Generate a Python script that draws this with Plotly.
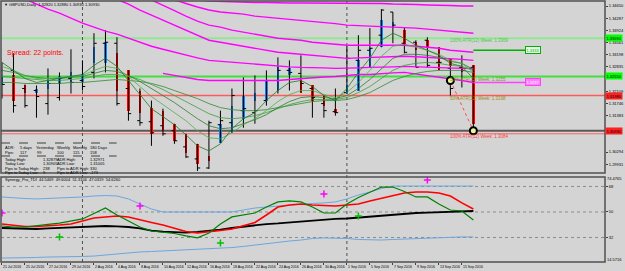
import plotly.graph_objects as go

# ---------------- data ----------------
DATE_LABEL_BARS = [0, 2, 4, 6, 8, 10, 12, 14, 16, 18, 20, 22, 24, 26, 28, 30, 32, 34, 36, 38, 40]
DATE_LABELS = ["21 Jul 2016", "25 Jul 2016", "27 Jul 2016", "29 Jul 2016", "2 Aug 2016", "4 Aug 2016",
               "8 Aug 2016", "10 Aug 2016", "12 Aug 2016", "16 Aug 2016", "18 Aug 2016", "22 Aug 2016",
               "24 Aug 2016", "26 Aug 2016", "30 Aug 2016", "1 Sep 2016", "5 Sep 2016", "7 Sep 2016",
               "9 Sep 2016", "13 Sep 2016", "15 Sep 2016"]
MONTH_START_BARS = [7, 30]

OPEN = [1.3273, 1.3273, 1.3219, 1.3213, 1.3174, 1.3192, 1.3249, 1.3243, 1.3267, 1.3354,
        1.3354, 1.3219, 1.3123, 1.3120, 1.3108, 1.3093, 1.3045, 1.3009, 1.2982, 1.3111,
        1.3117, 1.3153, 1.3147, 1.3183, 1.3243, 1.3273, 1.3264, 1.3219, 1.3174, 1.3150,
        1.3207, 1.3303, 1.3333, 1.3378, 1.3447, 1.3354, 1.3357, 1.3363, 1.3297, 1.3279,
        1.3282, 1.3282]
HIGH = [1.3297, 1.3324, 1.3231, 1.3228, 1.3279, 1.3267, 1.3336, 1.3303, 1.3384, 1.3393,
        1.3372, 1.3273, 1.3219, 1.3183, 1.3159, 1.3114, 1.3084, 1.3054, 1.3123, 1.3153,
        1.3219, 1.3252, 1.3258, 1.3273, 1.3312, 1.3303, 1.3318, 1.3228, 1.3198, 1.3219,
        1.3348, 1.3378, 1.3399, 1.3456, 1.3447, 1.3402, 1.3363, 1.3372, 1.3342, 1.3306,
        1.3318, 1.3288]
LOW = [1.3189, 1.3147, 1.3162, 1.3132, 1.3141, 1.3183, 1.3204, 1.3213, 1.3249, 1.3267,
       1.3168, 1.3123, 1.3108, 1.3048, 1.3078, 1.3054, 1.3012, 1.2973, 1.2979, 1.3057,
       1.3087, 1.3102, 1.3114, 1.3168, 1.3204, 1.3213, 1.3207, 1.3132, 1.3132, 1.3138,
       1.3204, 1.3213, 1.3282, 1.3342, 1.3354, 1.3324, 1.3282, 1.3282, 1.3273, 1.3198,
       1.3222, 1.3093]
CLOSE = [1.3231, 1.3168, 1.3168, 1.3195, 1.3234, 1.3249, 1.3237, 1.3225, 1.3354, 1.3357,
         1.3174, 1.3144, 1.3117, 1.3087, 1.3084, 1.3063, 1.3015, 1.2982, 1.3117, 1.3123,
         1.3198, 1.3159, 1.3153, 1.3243, 1.3273, 1.3267, 1.3234, 1.3192, 1.3153, 1.3147,
         1.3309, 1.3333, 1.3339, 1.3453, 1.3408, 1.3327, 1.3282, 1.3288, 1.3297, 1.3219,
         1.3273, 1.3093]
HA_OPEN = [1.3231, 1.3258, 1.3228, 1.3207, 1.3219, 1.3231, 1.3237, 1.3237, 1.3294, 1.3294,
           1.3324, 1.3273, 1.3213, 1.3162, 1.3153, 1.3114, 1.3084, 1.3054, 1.3018, 1.3057,
           1.3087, 1.3129, 1.3183, 1.3183, 1.3213, 1.3258, 1.3243, 1.3228, 1.3198, 1.3159,
           1.3204, 1.3213, 1.3282, 1.3342, 1.3399, 1.3393, 1.3357, 1.3363, 1.3342, 1.3306,
           1.3282, 1.3288]
HA_CLOSE = [1.3252, 1.3183, 1.3207, 1.3219, 1.3243, 1.3255, 1.3267, 1.3261, 1.3342, 1.3357,
            1.3213, 1.3153, 1.3147, 1.3084, 1.3093, 1.3063, 1.3027, 1.2994, 1.3003, 1.3114,
            1.3168, 1.3198, 1.3207, 1.3243, 1.3282, 1.3279, 1.3207, 1.3183, 1.3168, 1.3147,
            1.3228, 1.3303, 1.3339, 1.3423, 1.3417, 1.3348, 1.3333, 1.3339, 1.3273, 1.3285,
            1.3267, 1.3114]

MA_A = [1.3297, 1.3273, 1.3249, 1.3237, 1.3243, 1.3249, 1.3255, 1.3261, 1.3288, 1.3309,
        1.3285, 1.3243, 1.3198, 1.3159, 1.3135, 1.3111, 1.3081, 1.3048, 1.3033, 1.3054,
        1.3099, 1.3129, 1.3147, 1.3183, 1.3213, 1.3237, 1.3243, 1.3225, 1.3198, 1.3183,
        1.3219, 1.3267, 1.3309, 1.3363, 1.3384, 1.3369, 1.3348, 1.3333, 1.3318, 1.3294,
        1.3285, 1.3249]
MA_B = [1.3285, 1.3273, 1.3258, 1.3249, 1.3249, 1.3252, 1.3255, 1.3258, 1.3273, 1.3285,
        1.3279, 1.3255, 1.3225, 1.3195, 1.3171, 1.3147, 1.3123, 1.3093, 1.3072, 1.3069,
        1.3087, 1.3111, 1.3129, 1.3153, 1.3180, 1.3201, 1.3213, 1.3213, 1.3201, 1.3192,
        1.3207, 1.3237, 1.3273, 1.3315, 1.3345, 1.3351, 1.3342, 1.3333, 1.3321, 1.3303,
        1.3294, 1.3267]
MA_C = [1.3273, 1.3267, 1.3258, 1.3252, 1.3249, 1.3249, 1.3252, 1.3255, 1.3264, 1.3273,
        1.3270, 1.3258, 1.3240, 1.3219, 1.3198, 1.3177, 1.3153, 1.3129, 1.3108, 1.3099,
        1.3102, 1.3114, 1.3126, 1.3141, 1.3162, 1.3180, 1.3192, 1.3195, 1.3192, 1.3189,
        1.3198, 1.3219, 1.3246, 1.3279, 1.3309, 1.3321, 1.3321, 1.3318, 1.3312, 1.3300,
        1.3294, 1.3276]
MA_D = [1.3255, 1.3252, 1.3249, 1.3246, 1.3243, 1.3243, 1.3246, 1.3249, 1.3255, 1.3261,
        1.3261, 1.3255, 1.3246, 1.3231, 1.3216, 1.3198, 1.3180, 1.3162, 1.3144, 1.3132,
        1.3129, 1.3132, 1.3138, 1.3147, 1.3159, 1.3171, 1.3180, 1.3186, 1.3186, 1.3186,
        1.3192, 1.3207, 1.3225, 1.3249, 1.3273, 1.3288, 1.3294, 1.3297, 1.3294, 1.3288,
        1.3285, 1.3273]
MA_E = [1.3237, 1.3237, 1.3234, 1.3234, 1.3234, 1.3234, 1.3237, 1.3237, 1.3240, 1.3243,
        1.3246, 1.3243, 1.3240, 1.3234, 1.3225, 1.3213, 1.3201, 1.3189, 1.3174, 1.3162,
        1.3156, 1.3153, 1.3153, 1.3156, 1.3162, 1.3168, 1.3174, 1.3180, 1.3183, 1.3183,
        1.3186, 1.3195, 1.3207, 1.3225, 1.3243, 1.3255, 1.3264, 1.3270, 1.3273, 1.3273,
        1.3273, 1.3267]

ENV_1 = [1.3663, 1.3651, 1.3642, 1.3630, 1.3621, 1.3609, 1.3597, 1.3588, 1.3576, 1.3567,
         1.3555, 1.3543, 1.3531, 1.3519, 1.3507, 1.3495, 1.3489, 1.3483, 1.3480, 1.34785,
         1.3477, 1.3477, 1.34755, 1.34755, 1.3474, 1.3474, 1.3474, 1.3474, 1.3474, 1.3474,
         1.34725, 1.34725, 1.34725, 1.34725, 1.3471, 1.3471, 1.34695, 1.3468, 1.3468, 1.34665,
         1.3465, 1.3465]
ENV_2 = [1.3645, 1.3636, 1.3624, 1.3615, 1.3603, 1.3594, 1.3582, 1.3573, 1.3561, 1.3552,
         1.3540, 1.3528, 1.3516, 1.3507, 1.3495, 1.3483, 1.34725, 1.3462, 1.3453, 1.3447,
         1.3444, 1.3441, 1.3435, 1.3432, 1.3429, 1.3426, 1.3423, 1.34185, 1.34155, 1.34125,
         1.3408, 1.34065, 1.3405, 1.3405, 1.34035, 1.3402, 1.3399, 1.3396, 1.3393, 1.3390,
         1.3387, 1.3384]
ENV_3 = [1.3633, 1.3621, 1.3612, 1.3600, 1.3588, 1.3579, 1.3567, 1.3558, 1.3549, 1.3537,
         1.3522, 1.3510, 1.3495, 1.3483, 1.3468, 1.34515, 1.3435, 1.3420, 1.3408, 1.3402,
         1.3393, 1.3387, 1.3381, 1.3375, 1.3369, 1.3366, 1.3363, 1.3357, 1.3354, 1.3351,
         1.3348, 1.3348, 1.3348, 1.3348, 1.3348, 1.3348, 1.3345, 1.3342, 1.3339, 1.3333,
         1.3330, 1.3327]
ENV_4 = [1.3579, 1.3570, 1.3561, 1.3552, 1.3543, 1.3534, 1.3525, 1.3513, 1.3504, 1.3495,
         1.34845, 1.3471, 1.3453, 1.3438, 1.3423, 1.3408, 1.3393, 1.3378, 1.3363, 1.3357,
         1.3351, 1.3345, 1.3339, 1.3333, 1.3327, 1.3324, 1.3321, 1.3318, 1.3315, 1.3312,
         1.3309, 1.33105, 1.3312, 1.33135, 1.3315, 1.3315, 1.33135, 1.3312, 1.3309, 1.33075,
         1.3306, 1.3303]
ENV_5 = [1.3516, 1.3501, 1.3486, 1.3471, 1.3456, 1.3444, 1.3429, 1.3414, 1.3402, 1.3390,
         1.3381, 1.3369, 1.3357, 1.3345, 1.3336, 1.3327, 1.3318, 1.33105, 1.3303, 1.3300,
         1.3297, 1.3294, 1.3291, 1.3288, 1.3285, 1.32835, 1.3282, 1.3282, 1.32805, 1.3279,
         1.3279, 1.32805, 1.3282, 1.3282, 1.32835, 1.3285, 1.32835, 1.3282, 1.3282, 1.32805,
         1.3279, 1.3279]
ENV_6 = [None] * 14 + [1.3264, 1.3258, 1.3252, 1.3246, 1.3243, 1.3243,
                       1.3243, 1.3243, 1.3243, 1.3243, 1.3243, 1.3246, 1.3249, 1.3252, 1.32535, 1.3255,
                       1.3258, 1.3261, 1.3261, 1.3264, 1.32655, 1.3267, 1.32625, 1.3258, 1.3252, 1.32475,
                       1.3243, 1.3237]

ATR_100_HIGH = 1.3369
ATR_50_HIGH = 1.3255
ATR_50_LOW = 1.3198
ATR_100_LOW = 1.3084
PROJ_HIGH = 1.3333
PROJ_LOW = 1.3237
PIVOT_BARS = [39, 41]
PIVOT_PRICES = [1.3243, 1.3093]

PRICE_TICKS = [1.34650, 1.34287, 1.33924, 1.33561, 1.33198, 1.32835,
               1.32109, 1.31746, 1.31383, 1.30294, 1.29931]

TDI_UPPER = [60.6, 59.9, 59.5, 59.2, 59.5, 59.9, 60.2, 60.6, 61.3, 61.6,
             61.3, 59.2, 55.6, 52.1, 50.0, 50.0, 50.0, 50.0, 50.0, 50.0,
             50.0, 51.4, 52.8, 53.5, 54.2, 54.9, 55.6, 56.0, 56.4, 57.1,
             59.2, 62.0, 64.1, 66.6, 68.3, 68.3, 68.3, 68.3, 68.3, 68.3, 68.3, 68.3]
TDI_LOWER = [17.5, 17.5, 17.9, 17.9, 18.2, 18.2, 18.6, 18.6, 18.9, 19.7,
             20.4, 21.1, 21.8, 22.1, 22.5, 22.8, 23.2, 23.5, 23.9, 24.2,
             24.9, 25.7, 26.7, 27.8, 28.8, 29.5, 30.2, 31.3, 31.7, 31.7,
             31.3, 30.6, 30.2, 30.2, 30.6, 30.9, 31.3, 31.7, 32.0, 32.4, 32.4, 32.4]
TDI_SIGNAL = [41.5, 40.5, 39.8, 39.8, 40.1, 40.8, 41.5, 43.6, 45.8, 46.5,
              47.2, 46.5, 44.4, 42.6, 40.8, 38.7, 36.2, 35.2, 35.9, 36.9,
              38.0, 40.1, 42.6, 47.9, 53.5, 54.9, 55.6, 54.9, 54.6, 54.2,
              54.9, 55.6, 57.8, 59.5, 61.6, 63.4, 64.1, 64.1, 63.4, 61.3, 56.4, 52.1]
TDI_RSI = [40.1, 39.4, 39.4, 40.1, 41.2, 42.2, 43.6, 45.1, 48.9, 52.8,
           47.9, 43.6, 39.4, 36.6, 35.9, 34.8, 33.1, 31.7, 35.2, 41.5,
           46.5, 47.9, 49.3, 53.5, 57.1, 57.8, 57.1, 53.5, 49.3, 49.3,
           55.6, 60.2, 64.1, 67.6, 67.6, 64.5, 60.6, 60.6, 55.6, 51.4, 50.7, 44.4]
TDI_BASE = [38.7, 38.4, 38.0, 38.0, 38.4, 38.7, 39.1, 39.4, 39.8, 40.1,
            39.8, 39.4, 38.4, 36.9, 36.2, 35.9, 35.5, 35.9, 36.6, 37.6,
            38.7, 39.8, 40.8, 41.5, 41.9, 42.6, 42.9, 43.6, 44.4, 45.1,
            45.4, 46.1, 46.5, 47.2, 47.9, 48.6, 49.3, 49.6, 50.0, 50.4, 50.7, 50.7]
TDI_LEVELS = [68, 50, 32]
BUY_BARS = [5, 19, 31]
BUY_VALS = [32.4, 28.1, 47.2]
SELL_BARS = [0, 12, 28, 37]
SELL_VALS = [49.3, 54.2, 62.7, 72.6]

ADR_ROWS = [
    [("ADR:", 3), ("5 days", 18), ("Yesterday", 34), ("Weekly", 56), ("Monthly", 72), ("180 Days", 89)],
    [("Pips:", 3), ("117", 18), ("99", 35), ("100", 56), ("115", 72), ("158", 89)],
    [("Today High:", 3), ("1.32879", 41), ("ADR High:", 56), ("1.32971", 89)],
    [("Today Low:", 3), ("1.30905", 41), ("ADR Low:", 56), ("1.31005", 89)],
    [("Pips to Today High:", 3), ("238", 41), ("Pips to ADR High:", 56), ("330", 89)],
    [("Pips to Today Low:", 3), ("9", 41), ("Pips to ADR Low:", 56), ("-173", 89)],
]
ADR_ROW_Y = [147.5, 152.5, 159.5, 163.8, 168.0, 172.2]

# ---------------- layout helpers ----------------
W_PX, H_PX = 625, 271
L, R, T, B = 1, 13, 1, 9
PLOT_W = W_PX - L - R
PLOT_H = H_PX - T - B
BG = "#d4d4d4"
FONT = "Liberation Sans"


def px(xp):
    return (xp - L) / PLOT_W


def py(yp):
    return (H_PX - B - yp) / PLOT_H


N = len(OPEN)
BARS = list(range(N))

fig = go.Figure()

# magenta envelopes
for env in [ENV_1, ENV_2, ENV_3, ENV_4, ENV_5, ENV_6]:
    fig.add_trace(go.Scatter(x=BARS, y=env, mode="lines", line=dict(color="#ff00ff", width=1.4),
                             hoverinfo="skip", yaxis="y"))
# green ribbon
for ma, col in zip([MA_E, MA_D, MA_C, MA_B, MA_A],
                   ["#2e8b2e", "#3c9d3c", "#2a7f2a", "#4caf4c", "#1f7a1f"]):
    fig.add_trace(go.Scatter(x=BARS, y=ma, mode="lines", line=dict(color=col, width=0.8),
                             hoverinfo="skip", yaxis="y"))

# OHLC bars
fig.add_trace(go.Ohlc(x=BARS, open=OPEN, high=HIGH, low=LOW, close=CLOSE,
                      increasing=dict(line=dict(color="black", width=1)),
                      decreasing=dict(line=dict(color="black", width=1)),
                      tickwidth=0.24, hoverinfo="skip", yaxis="y"))
# heiken-ashi bodies
ha_base = [min(o, c) for o, c in zip(HA_OPEN, HA_CLOSE)]
ha_len = [abs(c - o) for o, c in zip(HA_OPEN, HA_CLOSE)]
ha_col = ["#1c86ee" if c > o else "#ff0000" for o, c in zip(HA_OPEN, HA_CLOSE)]
fig.add_trace(go.Bar(x=BARS, y=ha_len, base=ha_base, width=0.2, marker=dict(color=ha_col, line=dict(width=0)),
                     hoverinfo="skip", yaxis="y"))

# projection segments
fig.add_trace(go.Scatter(x=[BARS[-1], BARS[-1] + 4.5], y=[PROJ_HIGH, PROJ_HIGH], mode="lines",
                         line=dict(color="#00b000", width=1.5), hoverinfo="skip", yaxis="y"))
fig.add_trace(go.Scatter(x=[BARS[-1], BARS[-1] + 4.5], y=[PROJ_LOW, PROJ_LOW], mode="lines",
                         line=dict(color="#ff40ff", width=1.5), hoverinfo="skip", yaxis="y"))
# pivots
fig.add_trace(go.Scatter(x=PIVOT_BARS, y=PIVOT_PRICES, mode="lines", line=dict(color="#ff5050", width=1, dash="dot"),
                         hoverinfo="skip", yaxis="y"))
fig.add_trace(go.Scatter(x=PIVOT_BARS, y=PIVOT_PRICES, mode="markers",
                         marker=dict(symbol="circle", size=7, color="#f0f0a0", line=dict(color="black", width=2)),
                         hoverinfo="skip", yaxis="y"))

# ---------------- TDI panel ----------------
fig.add_trace(go.Scatter(x=BARS, y=TDI_UPPER, mode="lines", line=dict(color="#6ca6e0", width=1),
                         hoverinfo="skip", yaxis="y2"))
fig.add_trace(go.Scatter(x=BARS, y=TDI_LOWER, mode="lines", line=dict(color="#6ca6e0", width=1),
                         hoverinfo="skip", yaxis="y2"))
fig.add_trace(go.Scatter(x=BARS, y=TDI_BASE, mode="lines", line=dict(color="black", width=1.8),
                         hoverinfo="skip", yaxis="y2"))
fig.add_trace(go.Scatter(x=BARS, y=TDI_SIGNAL, mode="lines", line=dict(color="#ff0000", width=1.6),
                         hoverinfo="skip", yaxis="y2"))
fig.add_trace(go.Scatter(x=BARS, y=TDI_RSI, mode="lines", line=dict(color="#008000", width=1.2),
                         hoverinfo="skip", yaxis="y2"))
fig.add_trace(go.Scatter(x=BUY_BARS, y=BUY_VALS, mode="markers",
                         marker=dict(symbol="cross-thin", size=5, line=dict(color="#00c000", width=1.5)),
                         hoverinfo="skip", yaxis="y2"))
fig.add_trace(go.Scatter(x=SELL_BARS, y=SELL_VALS, mode="markers",
                         marker=dict(symbol="cross-thin", size=5, line=dict(color="#ff00ff", width=1.5)),
                         hoverinfo="skip", yaxis="y2"))

shapes = []
# main level lines
for lvl, col, w in [(ATR_100_HIGH, "#90e890", 2), (ATR_50_HIGH, "#40e040", 2),
                    (ATR_50_LOW, "#ff5a5a", 1.5), (CLOSE[-1], "#5a5a5a", 2), (ATR_100_LOW, "#ff6060", 1)]:
    shapes.append(dict(type="line", xref="paper", x0=0, x1=1, yref="y", y0=lvl, y1=lvl,
                       line=dict(color=col, width=w), layer="below"))
# TDI levels
for lvl in TDI_LEVELS:
    shapes.append(dict(type="line", xref="paper", x0=0, x1=1, yref="y2", y0=lvl, y1=lvl,
                       line=dict(color="#8c8c8c", width=1, dash="dot"), layer="below"))
# month separators
for b in MONTH_START_BARS:
    shapes.append(dict(type="line", xref="x", x0=b, x1=b, yref="paper", y0=0, y1=1,
                       line=dict(color="#505050", width=1, dash="dot"), layer="below"))
# ADR table separators
for yy in [143, 156]:
    shapes.append(dict(type="line", xref="paper", x0=px(1), x1=px(118), yref="paper", y0=py(yy), y1=py(yy),
                       line=dict(color="#404040", width=1, dash="dash")))
# panel frames
shapes.append(dict(type="rect", xref="paper", x0=0, x1=1, yref="y domain", y0=0, y1=1,
                   line=dict(color="#505050", width=1.5)))
shapes.append(dict(type="rect", xref="paper", x0=0, x1=1, yref="y2 domain", y0=0, y1=1,
                   line=dict(color="#505050", width=1.5)))

ann = []


def text(xp, yp, s, color="black", size=4, anchor="left"):
    ann.append(dict(xref="paper", yref="paper", x=px(xp), y=py(yp), text=s, showarrow=False,
                    xanchor=anchor, yanchor="middle", font=dict(family=FONT, size=size, color=color)))


text(2, 4.5, "\u25bc GBPUSD,Daily  %.5f %.5f %.5f %.5f" % (OPEN[-1], HIGH[-1], LOW[-1], CLOSE[-1]))
text(5, 52.5, "Spread: 22 points.", color="#ff0000", size=7)
for row, yy in zip(ADR_ROWS, ADR_ROW_Y):
    for s, xx in row:
        text(xx, yy, s)
text(3, 179.5, "Synergy_Pro_TDI  44.5469  49.6004  51.3104  47.0319  54.6260")

# ATR labels
for lvl, pct, col, yoff in [(ATR_100_HIGH, "100%", "#4cc84c", 2.5), (ATR_50_HIGH, "50%", "#7a9a1a", 3),
                             (ATR_50_LOW, "50%", "#9a8a10", 3), (ATR_100_LOW, "100%", "#ff3c3c", 3)]:
    ann.append(dict(xref="x", yref="y", x=38.8, y=lvl, yshift=-yoff, text="%s ATR(12) Week: %.4f" % (pct, lvl),
                    showarrow=False, xanchor="left", yanchor="middle", font=dict(family=FONT, size=4.5, color=col)))

# right-axis price boxes
for lvl, bg in [(ATR_100_HIGH, "#00ff00"), (ATR_50_HIGH, "#00ff00"), (ATR_50_LOW, "#ff2020"), (CLOSE[-1], "#ff2020")]:
    ann.append(dict(xref="paper", yref="y", x=1.0, y=lvl, text="%.5f" % lvl, showarrow=False,
                    xanchor="left", yanchor="middle", bgcolor=bg, borderpad=0.5,
                    font=dict(family=FONT, size=4, color="black")))
# projection boxes
ann.append(dict(xref="x", yref="y", x=BARS[-1] + 4.5, y=PROJ_HIGH, text="%.4f" % PROJ_HIGH, showarrow=False,
                xanchor="left", yanchor="middle", bgcolor="#e8ffe8", bordercolor="#00b000", borderwidth=1,
                borderpad=0.5, font=dict(family=FONT, size=4, color="#00a000")))
ann.append(dict(xref="x", yref="y", x=BARS[-1] + 4.5, y=PROJ_LOW, text="%.4f" % PROJ_LOW, showarrow=False,
                xanchor="left", yanchor="middle", bgcolor="#ff80ff", bordercolor="#ff40ff", borderwidth=1,
                borderpad=0.5, font=dict(family=FONT, size=4, color="#ffffff")))

# TDI scale extremes
ann.append(dict(xref="paper", yref="paper", x=1.0, y=py(178.5), text="74.4765", showarrow=False,
                xanchor="left", yanchor="middle", font=dict(family=FONT, size=4)))
ann.append(dict(xref="paper", yref="paper", x=1.0, y=py(259.5), text="14.5716", showarrow=False,
                xanchor="left", yanchor="middle", font=dict(family=FONT, size=4)))

# date labels
for b, lab in zip(DATE_LABEL_BARS, DATE_LABELS):
    ann.append(dict(xref="x", yref="paper", x=b, y=py(266.5), text=lab, showarrow=False, xshift=-1,
                    xanchor="left", yanchor="middle", font=dict(family=FONT, size=3.5)))

fig.update_layout(
    width=W_PX, height=H_PX,
    margin=dict(l=L, r=R, t=T, b=B, pad=0),
    paper_bgcolor=BG, plot_bgcolor=BG, showlegend=False,
    font=dict(family=FONT, size=4, color="black"),
    bargap=0,
    xaxis=dict(range=[-0.086, 52.45], anchor="y2", showgrid=False, zeroline=False, showticklabels=False,
               ticks="outside", ticklen=2, tickcolor="#404040", tickvals=DATE_LABEL_BARS,
               rangeslider=dict(visible=False), fixedrange=True),
    yaxis=dict(domain=[0.341, 1.0], range=[1.2967, 1.3480], side="right", anchor="x",
               tickvals=PRICE_TICKS, ticktext=["%.5f" % v for v in PRICE_TICKS],
               ticks="outside", ticklen=2, tickcolor="#404040", tickfont=dict(size=4),
               showgrid=False, zeroline=False, fixedrange=True),
    yaxis2=dict(domain=[0.0, 0.3257], range=[14.7, 74.7], side="right", anchor="x",
                tickvals=TDI_LEVELS, ticktext=[str(v) for v in TDI_LEVELS],
                ticks="outside", ticklen=2, tickcolor="#404040", tickfont=dict(size=4),
                showgrid=False, zeroline=False, fixedrange=True),
    shapes=shapes, annotations=ann,
)

fig.write_html("out.html")
